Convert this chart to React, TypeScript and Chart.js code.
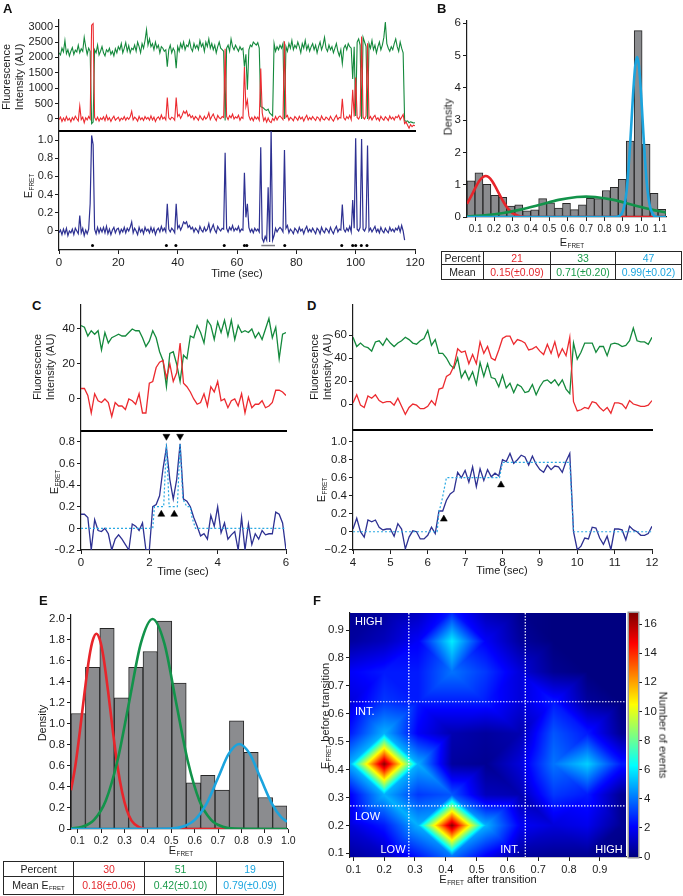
import React, { useEffect, useRef } from "react";
import { Chart, registerables } from "chart.js";

Chart.register(...registerables);

// ---------------- fonts & colours ----------------
const FONT = "'Liberation Sans', Arial, Helvetica, sans-serif";
Chart.defaults.font.family = FONT;
const INK = "#1c1c1c";
const DONOR = "#14893c";
const ACCEPTOR = "#ec2a2f";
const EF_BLUE = "#2e3192";
const FIT_RED = "#e8252b";
const FIT_GREEN = "#12934a";
const FIT_CYAN = "#1ba4de";
const STEP_CYAN = "#2aa9e2";
const BAR_FILL = "#8b8c8f";
const BAR_EDGE = "#262626";
const T_RED = "#e42a2f";
const T_GREEN = "#1a9a4a";
const T_CYAN = "#1ea6e0";

// ---------------- panel A data (0.5 s frames) ----------------
const A_FRAME_S = 0.5;
const A_DONOR = [
  2150, 2080, 2300, 2180, 2550, 2120, 2250, 2050, 2200, 2320,
  2100, 2240, 2180, 2400, 2150, 2280, 2200, 2650, 2350, 2100,
  2300, 2200, -150, -100, 2250, 2150, 2400, 2080, 2200, 2350,
  2150, 2050, 2250, 2180, 2300, 2100, 2200, 2050, 2280, 2150,
  2350, 2250, 2450, 2150, 2300, 2480, 2200, 2380, 2150, 2300,
  2250, 2400, 2200, 2500, 2350, 2150, 2450, 2300, 2550, 2900,
  2400, 2600, 2350, 2450, 2250, 2500, 2300, 2400, 2150, 2350,
  2300, 2200, 2250, 1700, 2250, 2400, 2150, 2300, 2200, 1650,
  2350, 2200, 2450, 2300, 2500, 2250, 2400, 2350, 2550, 2300,
  2200, 2450, 2300, 2400, 2250, 2550, 2350, 2450, 2200, 2500,
  2350, 2600, 2300, 2450, 2250, 2400, 2150, 2350, 2500, 2300,
  2250, 2200, -50, 2300, 2400, 2200, 2600, 2350, 2250, 2400,
  2300, 2200, 2350, 2250, 2300, 1700, 2100, 950, 2250, 2400,
  2350, 2500, 2450, 2400, 2480, 2300, 400, 380, 350, 300,
  280, 320, 200, 150, 100, 2450, 2200, 2350, 2250, 2400,
  2300, 2450, 0, 2350, 2200, 2450, 2300, 2550, 2250, 2400,
  2300, 2500, 2350, 2150, 2450, 2300, 2550, 2250, 2400, 2200,
  2350, 2450, 2250, 2400, 2150, 2350, 2500, 2250, 2400, 2650,
  2300, 2200, 2400, 2250, 2350, 2150, 2300, 2450, 2200, 2050,
  2250, 1800, 2300, 2400, 2250, 2450, 2350, 2300, 1300, 2350,
  100, 2500, 2600, 2400, 0, 2650, 2500, 2350, 0, 2450,
  2300, 2550, 2250, 2400, 2150, 2350, 2500, 2250, 2400, 2650,
  3150, 2450, 2300, 2200, 2350, 2250, 2450, 2600, 2350, 2200,
  2500, 2300, 2150, -50, -80, -60, -120, -90, -110, -130,
  -120,
];
const A_ACCEPTOR = [
  -20, 60, -80, 30, -60, 80, -40, 20, -90, 50,
  -30, 90, 10, -60, 420, -20, 60, -120, 40, -30,
  80, 0, 3050, 3100, 50, -40, 60, -70, 30, -20,
  70, -50, 120, -30, 40, -80, 20, 90, -40, 10,
  60, -60, 30, -20, 80, -40, 50, -10, 70, 250,
  -30, 60, 10, -70, 90, -20, 40, -50, 80, 0,
  50, -40, 100, -30, 60, -80, 20, 70, -20, 130,
  0, 60, -30, 700, 40, -20, 60, 30, -40, 700,
  80, 150, 20, 120, 250, 180, 260, 90, 150, 40,
  100, -20, 80, 30, -40, 110, 20, -30, 90, 0,
  60, 200, -20, 80, 160, 30, -50, 120, 40, 10,
  80, 50, 2280, 80, -20, 110, 40, 160, 0, 70,
  30, 120, -40, 60, 20, 1690, 400, 610, 100, -30,
  50, -60, 80, 0, 60, -40, 1640, 200, -60, 40,
  -100, 30, -80, -120, 20, -50, 80, -30, 60, 100,
  40, -20, 2525, 60, 120, -40, 50, 10, -60, 80,
  30, -40, 90, 0, 60, -70, 40, 120, -30, 50,
  -20, 80, 10, -50, 70, 30, -60, 100, 0, -30,
  60, 20, -40, 90, 0, -70, 40, 120, -20, 50,
  30, 655, 40, -30, 80, 10, 120, -20, 950, 80,
  1350, 50, 0, 100, 2680, 50, 0, 100, 2460, 0,
  80, -30, 60, 120, -20, 40, -60, 90, 10, -40,
  70, 20, -50, 100, 0, 60, -30, 80, 40, 120,
  -20, 60, 150, -150, -100, -200, -300, -180, -250, -200,
  -220,
];
const A_EFRET = [
  -0.02, 0.01, -0.04, 0.02, -0.03, 0.03, -0.05, 0.0, -0.02, 0.02,
  -0.04, 0.03, 0.0, -0.03, 0.17, -0.02, 0.03, -0.05, 0.01, -0.03,
  0.02, 0.3, 1.05, 0.95, 0.02, -0.03, 0.04, -0.02, 0.03, -0.01,
  0.04, -0.02, 0.05, -0.03, 0.02, -0.04, 0.01, 0.04, -0.02, 0.02,
  0.03, -0.03, 0.02, -0.01, 0.04, -0.02, 0.03, 0.0, 0.04, 0.1,
  -0.02, 0.03, 0.0, -0.04, 0.04, -0.01, 0.02, -0.03, 0.04, 0.0,
  0.02, -0.02, 0.04, -0.01, 0.03, -0.04, 0.01, 0.03, -0.01, 0.05,
  0.0, 0.03, -0.01, 0.3, 0.02, -0.01, 0.03, 0.01, -0.02, 0.3,
  0.03, 0.06, 0.01, 0.05, 0.1, 0.08, 0.1, 0.04, 0.06, 0.02,
  0.04, -0.01, 0.03, 0.01, -0.02, 0.05, 0.01, -0.01, 0.04, 0.0,
  0.02, 0.08, -0.01, 0.03, 0.07, 0.01, -0.02, 0.05, 0.02, 0.0,
  0.03, 0.02, 0.86, 0.03, -0.01, 0.04, 0.01, 0.06, 0.0, 0.03,
  0.01, 0.05, -0.01, 0.02, 0.01, 0.64, 0.15, 0.3, 0.04, -0.01,
  0.02, -0.02, 0.03, 0.0, 0.02, -0.01, 0.92, -0.08, -0.12, -0.06,
  -0.1, 0.48, -0.12, 1.12, -0.1, -0.05, 0.03, -0.01, 0.02, 0.04,
  0.02, -0.01, 0.89, 0.03, 0.06, -0.02, 0.02, 0.0, -0.03, 0.03,
  0.01, -0.02, 0.04, 0.0, 0.02, -0.03, 0.02, 0.05, -0.01, 0.02,
  -0.01, 0.03, 0.0, -0.03, 0.03, 0.01, -0.03, 0.04, 0.0, -0.02,
  0.03, 0.01, -0.02, 0.04, 0.0, -0.03, 0.02, 0.05, -0.01, 0.02,
  0.01, 0.29, 0.02, -0.01, 0.03, 0.0, 0.05, -0.01, 0.34, 0.03,
  1.02, 0.02, 0.0, 0.04, 1.01, 0.02, 0.0, 0.04, 0.94, 0.0,
  0.03, -0.01, 0.02, 0.05, -0.01, 0.02, -0.02, 0.04, 0.0, -0.02,
  0.03, 0.0, -0.02, 0.04, 0.0, 0.02, -0.01, 0.03, 0.01, 0.05,
  -0.01, 0.06, 0.0, -0.1,
];
const A_EVENT_TIMES = [11.3, 36.2, 39.4, 55.7, 62.5, 63.3, 76.1, 95.3, 99.0, 100.0, 101.9, 103.8];
const A_EVENT_LEVEL = -0.16;
const A_BAR_SPAN = [68.2, 72.8];
const A_INT_TICKS = [0, 500, 1000, 1500, 2000, 2500, 3000];
const A_INT_LABELS = ["0", "500", "1000", "1500", "2000", "2500", "3000"];
const A_E_TICKS = [0, 0.2, 0.4, 0.6, 0.8, 1.0];
const A_E_LABELS = ["0", "0.2", "0.4", "0.6", "0.8", "1.0"];
const A_TIME_TICKS = [0, 20, 40, 60, 80, 100, 120];
const A_TIME_LABELS = ["0", "20", "40", "60", "80", "100", "120"];

// ---------------- panel B data ----------------
const B_BIN_CENTERS = [0.0746, 0.1178, 0.1611, 0.2043, 0.2476, 0.2908, 0.3341, 0.3773, 0.4205, 0.4638, 0.507, 0.5503, 0.5935, 0.6368, 0.68, 0.7232, 0.7665, 0.8097, 0.853, 0.8962, 0.9395, 0.9827, 1.026, 1.0692, 1.1124];
const B_DENSITY = [1.12, 1.37, 1.01, 0.67, 0.61, 0.34, 0.38, 0.19, 0.22, 0.57, 0.44, 0.28, 0.42, 0.23, 0.38, 0.58, 0.57, 0.82, 0.92, 1.17, 2.35, 5.77, 2.25, 0.73, 0.24];
const B_RED_X = [0.053, 0.08, 0.1, 0.12, 0.14, 0.155, 0.17, 0.19, 0.21, 0.23, 0.25, 0.27, 0.29, 0.31, 0.33, 0.36, 0.4, 0.6, 0.8, 1.0, 1.12];
const B_RED_Y = [0.41, 0.69, 0.92, 1.12, 1.24, 1.27, 1.24, 1.11, 0.91, 0.69, 0.48, 0.3, 0.17, 0.09, 0.04, 0.01, 0, 0, 0, 0, 0];
const B_GREEN_X = [0.053, 0.15, 0.25, 0.35, 0.45, 0.55, 0.65, 0.7, 0.75, 0.85, 0.95, 1.05, 1.134];
const B_GREEN_Y = [0.022, 0.056, 0.125, 0.236, 0.38, 0.53, 0.62, 0.63, 0.62, 0.53, 0.38, 0.236, 0.14];
const B_CYAN_X = [0.053, 0.85, 0.88, 0.9, 0.92, 0.94, 0.955, 0.967, 0.977, 0.987, 1.0, 1.015, 1.03, 1.045, 1.06, 1.08, 1.134];
const B_CYAN_Y = [0, 0, 0.03, 0.18, 0.81, 2.32, 3.79, 4.68, 4.95, 4.68, 3.68, 2.21, 1.03, 0.38, 0.11, 0.01, 0];
const B_Y_TICKS = [0, 1, 2, 3, 4, 5, 6];
const B_Y_LABELS = ["0", "1", "2", "3", "4", "5", "6"];
const B_X_TICKS = [0.1, 0.2, 0.3, 0.4, 0.5, 0.6, 0.7, 0.8, 0.9, 1.0, 1.1];
const B_X_LABELS = ["0.1", "0.2", "0.3", "0.4", "0.5", "0.6", "0.7", "0.8", "0.9", "1.0", "1.1"];
const B_PERCENT = ["21", "33", "47"];
const B_MEAN = ["0.15(\u00b10.09)", "0.71(\u00b10.20)", "0.99(\u00b10.02)"];

// ---------------- panel C data (0.1 s frames, 0..6 s) ----------------
const C_START = 0;
const C_FRAME_S = 0.1;
const C_DONOR = [42, 41, 36, 39, 37, 39, 28, 38, 32, 35, 36, 37, 36, 36, 38, 40, 39, 39, 35, 30, 33, 39, 35, 27, 22, 7, 26, 27, 20, 10, 25, 23, 36, 35, 42, 38, 32, 45, 42, 34, 44, 38, 45, 36, 45, 34, 42, 38, 39, 38, 40, 35, 38, 34, 40, 46, 35, 41, 23, 37, 38];
const C_ACCEPTOR = [6, 6, 2, -8, 3, -1, -2, 0, -2, -10, -2, -4, -4, -6, 0, -1, -3, 3, -8, -8, 9, 10, 18, 21, 22, 12, 20, 10, 15, 32, 9, 7, 4, 0, -3, -2, 3, -4, 7, 4, 10, -1, 0, -5, -1, 0, -4, 3, -8, 1, -5, -3, -3, -1, -5, -4, -2, 5, 5, 4, 2];
const C_EFRET = [0.13, 0.13, 0.1, -0.2, 0.08, -0.02, -0.03, 0.0, -0.05, -0.2, -0.1, -0.06, -0.1, -0.15, -0.2, 0.04, 0.02, -0.02, 0.05, -0.2, -0.2, 0.2, 0.22, 0.3, 0.55, 0.75, 0.45, 0.27, 0.45, 0.78, 0.27, 0.25, 0.2, 0.1, 0.02, -0.07, -0.05, -0.1, 0.12, 0.02, 0.2, -0.04, 0.05, -0.1, -0.06, -0.03, -0.2, 0.1, -0.2, 0.04, -0.15, -0.05, -0.1, -0.02, -0.06, -0.05, -0.05, 0.15, 0.13, 0.05, -0.2];
const C_FIT_T = [0, 2.1, 2.15, 2.42, 2.5, 2.58, 2.82, 2.9, 2.98, 3.1, 3.2, 3.25, 3.35, 6];
const C_FIT_E = [0, 0, 0.2, 0.2, 0.78, 0.2, 0.2, 0.78, 0.27, 0.2, 0.2, 0.1, 0, 0];
const C_DOWN_MARKS = [{ x: 2.5, y: 0.85 }, { x: 2.9, y: 0.85 }];
const C_UP_MARKS = [{ x: 2.35, y: 0.13 }, { x: 2.73, y: 0.13 }];
const C_INT_TICKS = [0, 20, 40];
const C_INT_LABELS = ["0", "20", "40"];
const C_E_TICKS = [-0.2, 0, 0.2, 0.4, 0.6, 0.8];
const C_E_LABELS = ["\u22120.2", "0", "0.2", "0.4", "0.6", "0.8"];
const C_TIME_TICKS = [0, 2, 4, 6];
const C_TIME_LABELS = ["0", "2", "4", "6"];

// ---------------- panel D data (0.1 s frames, 4..12 s) ----------------
const D_START = 4;
const D_FRAME_S = 0.1;
const D_DONOR = [58, 50, 53, 50, 49, 46, 54, 55, 51, 57, 53, 50, 53, 55, 58, 56, 53, 52, 55, 57, 64, 51, 56, 44, 44, 40, 34, 31, 40, 23, 29, 21, 28, 17, 36, 24, 35, 23, 22, 15, 25, 14, 18, 10, 17, 15, 10, 11, 17, 8, 15, 20, 21, 18, 21, 16, 21, 13, 9, 53, 39, 45, 53, 53, 53, 45, 50, 50, 42, 52, 53, 52, 50, 51, 55, 66, 55, 54, 54, 52, 58];
const D_ACCEPTOR = [1, 8, -1, -3, 7, 5, 8, 3, 1, 2, 2, -1, 5, -2, -9, -3, 0, -1, -4, -4, -2, 3, -1, 13, 14, 24, 26, 33, 48, 45, 46, 35, 43, 35, 54, 44, 50, 40, 38, 47, 57, 59, 59, 52, 56, 55, 53, 47, 48, 50, 46, 43, 52, 44, 54, 41, 48, 42, 58, 2, -6, -5, -3, -4, 2, 1, -3, -6, -3, -8, 1, 1, 0, -4, 3, 0, -1, -2, -2, -1, 3];
const D_EFRET = [0.03, 0.15, 0.0, -0.06, 0.13, 0.11, 0.13, 0.05, 0.02, 0.03, 0.03, -0.05, 0.09, 0.03, -0.19, -0.06, 0.01, 0.0, -0.08, -0.08, -0.04, 0.05, -0.02, 0.23, 0.23, 0.35, 0.42, 0.45, 0.66, 0.6, 0.68, 0.55, 0.72, 0.5, 0.7, 0.57, 0.69, 0.61, 0.65, 0.62, 0.8, 0.78, 0.87, 0.76, 0.8, 0.85, 0.83, 0.74, 0.84, 0.75, 0.69, 0.66, 0.74, 0.69, 0.73, 0.72, 0.66, 0.78, 0.87, 0.0, -0.2, -0.16, -0.07, -0.08, 0.05, 0.04, -0.07, -0.14, -0.05, -0.2, 0.03, 0.03, 0.02, -0.09, 0.06, 0.02, 0.0, -0.04, -0.04, -0.02, 0.06];
const D_FIT_T = [4, 6.25, 6.3, 6.38, 6.5, 7.92, 8.0, 9.8, 9.9, 12];
const D_FIT_E = [0, 0, 0.22, 0.35, 0.6, 0.6, 0.77, 0.77, 0, 0];
const D_UP_MARKS = [{ x: 6.43, y: 0.14 }, { x: 7.96, y: 0.52 }];
const D_INT_TICKS = [0, 20, 40, 60];
const D_INT_LABELS = ["0", "20", "40", "60"];
const D_E_TICKS = [-0.2, 0, 0.2, 0.4, 0.6, 0.8, 1.0];
const D_E_LABELS = ["\u22120.2", "0", "0.2", "0.4", "0.6", "0.8", "1.0"];
const D_TIME_TICKS = [4, 5, 6, 7, 8, 9, 10, 11, 12];
const D_TIME_LABELS = ["4", "5", "6", "7", "8", "9", "10", "11", "12"];

// ---------------- panel E data ----------------
const E_BIN_CENTERS = [0.1024, 0.1639, 0.2254, 0.2869, 0.3484, 0.4099, 0.4714, 0.5329, 0.5944, 0.6559, 0.7174, 0.7789, 0.8404, 0.9019, 0.9634];
const E_DENSITY = [1.1, 1.54, 1.91, 1.25, 1.54, 1.69, 1.98, 1.39, 0.44, 0.51, 0.37, 1.03, 0.73, 0.3, 0.22];
const E_RED_X = [0.0716, 0.09, 0.11, 0.13, 0.15, 0.165, 0.18, 0.195, 0.21, 0.23, 0.25, 0.27, 0.29, 0.31, 0.33, 0.36, 0.4, 0.75];
const E_RED_Y = [0.37, 0.6, 0.94, 1.31, 1.64, 1.8, 1.86, 1.8, 1.64, 1.31, 0.94, 0.6, 0.35, 0.18, 0.08, 0.02, 0, 0];
const E_GREEN_X = [0.0716, 0.12, 0.17, 0.22, 0.27, 0.32, 0.37, 0.42, 0.47, 0.52, 0.57, 0.62, 0.67, 0.72, 0.77, 0.994];
const E_GREEN_Y = [0.004, 0.022, 0.088, 0.27, 0.65, 1.21, 1.77, 2.0, 1.77, 1.21, 0.65, 0.27, 0.088, 0.022, 0.004, 0];
const E_CYAN_X = [0.0716, 0.5, 0.55, 0.6, 0.65, 0.7, 0.745, 0.79, 0.835, 0.88, 0.93, 0.97, 0.994];
const E_CYAN_Y = [0, 0.005, 0.023, 0.087, 0.24, 0.49, 0.715, 0.81, 0.715, 0.49, 0.24, 0.11, 0.07];
const E_Y_TICKS = [0, 0.2, 0.4, 0.6, 0.8, 1.0, 1.2, 1.4, 1.6, 1.8, 2.0];
const E_Y_LABELS = ["0", "0.2", "0.4", "0.6", "0.8", "1.0", "1.2", "1.4", "1.6", "1.8", "2.0"];
const E_X_TICKS = [0.1, 0.2, 0.3, 0.4, 0.5, 0.6, 0.7, 0.8, 0.9, 1.0];
const E_X_LABELS = ["0.1", "0.2", "0.3", "0.4", "0.5", "0.6", "0.7", "0.8", "0.9", "1.0"];
const E_PERCENT = ["30", "51", "19"];
const E_MEAN = ["0.18(\u00b10.06)", "0.42(\u00b10.10)", "0.79(\u00b10.09)"];

// ---------------- panel F data (transition density map) ----------------
const F_GRID = [0.09, 0.2, 0.31, 0.42, 0.53, 0.64, 0.75, 0.86, 0.97];
// rows: E_FRET before transition (ascending), columns: E_FRET after transition
const F_COUNTS = [
  [0.5, 1.0, 2.5, 4.0, 2.0, 0.5, 0.3, 0.3, 0.0], // 0.09
  [1.5, 2.5, 5.0, 16.6, 5.0, 2.0, 1.5, 1.8, 0.3], // 0.20
  [2.0, 5.0, 3.0, 3.5, 1.0, 0.8, 3.0, 2.5, 0.3], // 0.31
  [5.0, 16.6, 5.0, 0.5, 0.3, 1.5, 4.0, 5.5, 2.5], // 0.42
  [2.5, 5.0, 2.0, 0.8, 0.5, 0.8, 3.5, 2.5, 0.3], // 0.53
  [1.5, 3.0, 2.5, 2.5, 2.5, 1.5, 2.5, 0.5, 0.0], // 0.64
  [2.0, 2.5, 2.5, 4.0, 3.0, 1.5, 0.3, 0.0, 0.0], // 0.75
  [0.5, 1.0, 2.0, 6.0, 2.0, 0.5, 0.0, 0.0, 0.0], // 0.86
  [0.3, 0.5, 1.0, 2.5, 0.8, 0.2, 0.0, 0.0, 0.0], // 0.97
];
const F_VMAX = 16.76;
const F_BOUNDS_X = [0.28, 0.658];
const F_BOUNDS_Y = [0.27, 0.643];
const F_TICKS = [0.1, 0.2, 0.3, 0.4, 0.5, 0.6, 0.7, 0.8, 0.9];
const F_LABELS = ["0.1", "0.2", "0.3", "0.4", "0.5", "0.6", "0.7", "0.8", "0.9"];
const CB_TICKS = [0, 2, 4, 6, 8, 10, 12, 14, 16];
const CB_LABELS = ["0", "2", "4", "6", "8", "10", "12", "14", "16"];

// ---------------- helpers ----------------
type Rect = { l: number; t: number; r: number; b: number };
type Box = { left: number; top: number; width: number; height: number };

const boxOf = (p: Rect, m: Rect): Box => ({
  left: p.l - m.l,
  top: p.t - m.t,
  width: p.r - p.l + m.l + m.r,
  height: p.b - p.t + m.t + m.b,
});

const frames = (start: number, step: number, n: number) =>
  Array.from({ length: n }, (_, i) => Math.round((start + i * step) * 1000) / 1000);
const xy = (xs: number[], ys: number[]) => ys.map((y, i) => ({ x: xs[i], y }));

function yLin(min: number, max: number, ticks: number[], labels: string[], w: number, size = 11, position = "left") {
  return {
    type: "linear",
    position,
    min,
    max,
    afterBuildTicks: (s: any) => {
      s.ticks = ticks.map((v) => ({ value: v }));
    },
    afterFit: (s: any) => {
      s.width = w;
    },
    ticks: { autoSkip: false, padding: 2, color: INK, font: { family: FONT, size }, callback: (_v: any, i: number) => labels[i] },
    grid: { display: true, drawOnChartArea: false, drawTicks: true, tickLength: 4, color: INK, lineWidth: 1 },
    border: { display: true, color: INK, width: 1.2 },
  };
}

function xLin(min: number, max: number, ticks: number[], labels: string[], h: number, size = 11) {
  return {
    type: "linear",
    position: "bottom",
    min,
    max,
    offset: false,
    afterBuildTicks: (s: any) => {
      s.ticks = ticks.map((v) => ({ value: v }));
    },
    afterFit: (s: any) => {
      s.height = h;
    },
    ticks: { autoSkip: false, maxRotation: 0, minRotation: 0, padding: 2, color: INK, font: { family: FONT, size }, callback: (_v: any, i: number) => labels[i] },
    grid: { display: true, offset: false, drawOnChartArea: false, drawTicks: true, tickLength: 4, color: INK, lineWidth: 1 },
    border: { display: true, color: INK, width: 1.2 },
  };
}

function xSep(min: number, max: number, h: number) {
  return {
    type: "linear",
    position: "bottom",
    min,
    max,
    afterFit: (s: any) => {
      s.height = h;
    },
    ticks: { display: false },
    grid: { display: true, drawOnChartArea: false, drawTicks: false, color: "#000" },
    border: { display: true, color: "#000", width: 2 },
  };
}

function opts(m: Rect, scales: any, pad?: any) {
  return {
    responsive: false,
    maintainAspectRatio: false,
    animation: false,
    events: [],
    layout: { padding: pad ?? { left: 0, top: m.t, right: m.r, bottom: 0 } },
    plugins: { legend: { display: false }, tooltip: { enabled: false } },
    scales,
  };
}

function line(data: any[], color: string, width: number, order: number, extra: any = {}) {
  return { type: "line", data, borderColor: color, backgroundColor: color, borderWidth: width, pointRadius: 0, tension: 0, fill: false, order, ...extra };
}
function curve(data: any[], color: string, order: number) {
  return line(data, color, 2.6, order, { cubicInterpolationMode: "monotone" });
}
function marks(data: any[], rotation: number, order: number) {
  return { type: "scatter", data, pointStyle: "triangle", pointRadius: 4, rotation, backgroundColor: "#000", borderColor: "#000", borderWidth: 0.5, order };
}
function bars(centers: number[], dens: number[]) {
  return {
    type: "bar",
    data: xy(centers, dens),
    backgroundColor: BAR_FILL,
    borderColor: BAR_EDGE,
    borderWidth: 1,
    borderSkipped: false,
    barPercentage: 1,
    categoryPercentage: 1,
    grouped: false,
    order: 10,
  };
}

// jet colour map
function jet(t: number): number[] {
  const c = (v: number) => Math.max(0, Math.min(1, v));
  const u = c(t);
  return [c(1.5 - Math.abs(4 * u - 3)) * 255, c(1.5 - Math.abs(4 * u - 2)) * 255, c(1.5 - Math.abs(4 * u - 1)) * 255];
}

// piecewise-linear (triangulated) reading of the count grid
function countAt(x: number, y: number): number {
  const n = F_GRID.length;
  const step = F_GRID[1] - F_GRID[0];
  let gx = (x - F_GRID[0]) / step;
  let gy = (y - F_GRID[0]) / step;
  gx = Math.max(0, Math.min(n - 1 - 1e-9, gx));
  gy = Math.max(0, Math.min(n - 1 - 1e-9, gy));
  const i = Math.floor(gx);
  const j = Math.floor(gy);
  const fx = gx - i;
  const fy = gy - j;
  const v00 = F_COUNTS[j][i];
  const v10 = F_COUNTS[j][i + 1];
  const v01 = F_COUNTS[j + 1][i];
  const v11 = F_COUNTS[j + 1][i + 1];
  if ((i + j) % 2 === 0) {
    if (fx + fy <= 1) return v00 + fx * (v10 - v00) + fy * (v01 - v00);
    return v11 + (1 - fx) * (v01 - v11) + (1 - fy) * (v10 - v11);
  }
  if (fx >= fy) return v00 + fx * (v10 - v00) + fy * (v11 - v10);
  return v00 + fy * (v01 - v00) + fx * (v11 - v01);
}

const heatPlugin = {
  id: "heatmap",
  beforeDatasetsDraw(chart: any) {
    const { ctx, chartArea: a, scales } = chart;
    const w = Math.round(a.right - a.left);
    const h = Math.round(a.bottom - a.top);
    const off = document.createElement("canvas");
    off.width = w;
    off.height = h;
    const octx = off.getContext("2d") as CanvasRenderingContext2D;
    const img = octx.createImageData(w, h);
    for (let py = 0; py < h; py++) {
      const vy = scales.y.getValueForPixel(a.top + py + 0.5);
      for (let px = 0; px < w; px++) {
        const vx = scales.x.getValueForPixel(a.left + px + 0.5);
        const col = jet(countAt(vx, vy) / F_VMAX);
        const k = (py * w + px) * 4;
        img.data[k] = col[0];
        img.data[k + 1] = col[1];
        img.data[k + 2] = col[2];
        img.data[k + 3] = 255;
      }
    }
    octx.putImageData(img, 0, 0);
    ctx.drawImage(off, a.left, a.top);
  },
  afterDatasetsDraw(chart: any) {
    const { ctx, chartArea: a, scales } = chart;
    ctx.save();
    ctx.strokeStyle = "#ffffff";
    ctx.lineWidth = 1.2;
    ctx.setLineDash([1.5, 1.5]);
    for (const v of F_BOUNDS_X) {
      const p = scales.x.getPixelForValue(v);
      ctx.beginPath();
      ctx.moveTo(p, a.top);
      ctx.lineTo(p, a.bottom);
      ctx.stroke();
    }
    for (const v of F_BOUNDS_Y) {
      const p = scales.y.getPixelForValue(v);
      ctx.beginPath();
      ctx.moveTo(a.left, p);
      ctx.lineTo(a.right, p);
      ctx.stroke();
    }
    ctx.restore();
  },
};

const colorbarPlugin = {
  id: "colorbar",
  beforeDatasetsDraw(chart: any) {
    const { ctx, chartArea: a, scales } = chart;
    for (let py = Math.floor(a.top); py < Math.ceil(a.bottom); py++) {
      const v = scales.y.getValueForPixel(py + 0.5);
      const c = jet(v / F_VMAX);
      ctx.fillStyle = `rgb(${c[0] | 0},${c[1] | 0},${c[2] | 0})`;
      ctx.fillRect(a.left, py, a.right - a.left, 1);
    }
    ctx.save();
    ctx.strokeStyle = "#9a9a9a";
    ctx.lineWidth = 1.5;
    ctx.strokeRect(a.left - 0.75, a.top - 0.75, a.right - a.left + 1.5, a.bottom - a.top + 1.5);
    ctx.restore();
  },
};

// ---------------- chart specs ----------------
const A_TIME = frames(0, A_FRAME_S, A_DONOR.length);
const C_TIME = frames(C_START, C_FRAME_S, C_DONOR.length);
const D_TIME = frames(D_START, D_FRAME_S, D_DONOR.length);

type Spec = { key: string; box: Box; make: () => any };

const P_A_TOP: Rect = { l: 59, t: 20, r: 415, b: 131 };
const M_A_TOP: Rect = { l: 59, t: 15, r: 15, b: 12 };
const P_A_BOT: Rect = { l: 59, t: 131, r: 415, b: 250 };
const M_A_BOT: Rect = { l: 59, t: 15, r: 15, b: 31 };
const P_B: Rect = { l: 467, t: 21, r: 666, b: 217 };
const M_B: Rect = { l: 27, t: 15, r: 17, b: 28 };
const P_C_TOP: Rect = { l: 81, t: 305, r: 286, b: 431 };
const M_C_TOP: Rect = { l: 26, t: 15, r: 14, b: 12 };
const P_C_BOT: Rect = { l: 81, t: 431, r: 286, b: 550 };
const M_C_BOT: Rect = { l: 26, t: 15, r: 14, b: 35 };
const P_D_TOP: Rect = { l: 353, t: 305, r: 652, b: 430 };
const M_D_TOP: Rect = { l: 28, t: 15, r: 18, b: 12 };
const P_D_BOT: Rect = { l: 353, t: 430, r: 652, b: 550 };
const M_D_BOT: Rect = { l: 28, t: 15, r: 18, b: 35 };
const P_E: Rect = { l: 71, t: 615, r: 287, b: 829 };
const M_E: Rect = { l: 26, t: 15, r: 15, b: 28 };
const P_F: Rect = { l: 350, t: 613, r: 626, b: 857 };
const M_F: Rect = { l: 38, t: 15, r: 10, b: 23 };
const P_CB: Rect = { l: 629, t: 613, r: 638, b: 857 };
const M_CB: Rect = { l: 9, t: 15, r: 45, b: 13 };

const SPECS: Spec[] = [
  {
    key: "a-top",
    box: boxOf(P_A_TOP, M_A_TOP),
    make: () => ({
      type: "line",
      data: {
        datasets: [line(xy(A_TIME, A_DONOR), DONOR, 1.1, 2), line(xy(A_TIME, A_ACCEPTOR), ACCEPTOR, 1.1, 1)],
      },
      options: opts(M_A_TOP, { x: xSep(0, 120, M_A_TOP.b), y: yLin(-390, 3216, A_INT_TICKS, A_INT_LABELS, M_A_TOP.l) }),
    }),
  },
  {
    key: "a-bot",
    box: boxOf(P_A_BOT, M_A_BOT),
    make: () => ({
      type: "line",
      data: {
        datasets: [
          line(xy(A_TIME, A_EFRET), EF_BLUE, 1.2, 3),
          line([{ x: A_BAR_SPAN[0], y: A_EVENT_LEVEL }, { x: A_BAR_SPAN[1], y: A_EVENT_LEVEL }], "#7d7d85", 1.5, 2),
          { type: "scatter", data: A_EVENT_TIMES.map((t) => ({ x: t, y: A_EVENT_LEVEL })), pointRadius: 1.5, backgroundColor: "#000", borderColor: "#000", borderWidth: 0, order: 1 },
        ],
      },
      options: opts(M_A_BOT, {
        x: xLin(0, 120, A_TIME_TICKS, A_TIME_LABELS, M_A_BOT.b, 11.5),
        y: yLin(-0.209, 1.099, A_E_TICKS, A_E_LABELS, M_A_BOT.l),
      }),
    }),
  },
  {
    key: "b",
    box: boxOf(P_B, M_B),
    make: () => ({
      type: "bar",
      data: {
        datasets: [
          bars(B_BIN_CENTERS, B_DENSITY),
          curve(xy(B_RED_X, B_RED_Y), FIT_RED, 3),
          curve(xy(B_GREEN_X, B_GREEN_Y), FIT_GREEN, 2),
          curve(xy(B_CYAN_X, B_CYAN_Y), FIT_CYAN, 1),
        ],
      },
      options: opts(M_B, {
        x: xLin(0.053, 1.134, B_X_TICKS, B_X_LABELS, M_B.b, 10),
        y: yLin(0, 6.07, B_Y_TICKS, B_Y_LABELS, M_B.l, 11.5),
      }),
    }),
  },
  {
    key: "c-top",
    box: boxOf(P_C_TOP, M_C_TOP),
    make: () => ({
      type: "line",
      data: { datasets: [line(xy(C_TIME, C_DONOR), DONOR, 1.3, 2), line(xy(C_TIME, C_ACCEPTOR), ACCEPTOR, 1.3, 1)] },
      options: opts(M_C_TOP, { x: xSep(0, 6, M_C_TOP.b), y: yLin(-18.3, 53.7, C_INT_TICKS, C_INT_LABELS, M_C_TOP.l, 11.5) }),
    }),
  },
  {
    key: "c-bot",
    box: boxOf(P_C_BOT, M_C_BOT),
    make: () => ({
      type: "line",
      data: {
        datasets: [
          line(xy(C_TIME, C_EFRET), EF_BLUE, 1.3, 3),
          line(xy(C_FIT_T, C_FIT_E), STEP_CYAN, 1.2, 2, { borderDash: [2, 2] }),
          marks(C_DOWN_MARKS, 180, 1),
          marks(C_UP_MARKS, 0, 1),
        ],
      },
      options: opts(M_C_BOT, {
        x: xLin(0, 6, C_TIME_TICKS, C_TIME_LABELS, M_C_BOT.b, 11.5),
        y: yLin(-0.2, 0.899, C_E_TICKS, C_E_LABELS, M_C_BOT.l, 11.5),
      }),
    }),
  },
  {
    key: "d-top",
    box: boxOf(P_D_TOP, M_D_TOP),
    make: () => ({
      type: "line",
      data: { datasets: [line(xy(D_TIME, D_DONOR), DONOR, 1.3, 2), line(xy(D_TIME, D_ACCEPTOR), ACCEPTOR, 1.3, 1)] },
      options: opts(M_D_TOP, { x: xSep(4, 12, M_D_TOP.b), y: yLin(-22.6, 86.1, D_INT_TICKS, D_INT_LABELS, M_D_TOP.l, 11.5) }),
    }),
  },
  {
    key: "d-bot",
    box: boxOf(P_D_BOT, M_D_BOT),
    make: () => ({
      type: "line",
      data: {
        datasets: [
          line(xy(D_TIME, D_EFRET), EF_BLUE, 1.3, 3),
          line(xy(D_FIT_T, D_FIT_E), STEP_CYAN, 1.2, 2, { borderDash: [2, 2] }),
          marks(D_UP_MARKS, 0, 1),
        ],
      },
      options: opts(M_D_BOT, {
        x: xLin(4, 12, D_TIME_TICKS, D_TIME_LABELS, M_D_BOT.b, 11.5),
        y: yLin(-0.203, 1.13, D_E_TICKS, D_E_LABELS, M_D_BOT.l, 11.5),
      }),
    }),
  },
  {
    key: "e",
    box: boxOf(P_E, M_E),
    make: () => ({
      type: "bar",
      data: {
        datasets: [
          bars(E_BIN_CENTERS, E_DENSITY),
          curve(xy(E_RED_X, E_RED_Y), FIT_RED, 3),
          curve(xy(E_GREEN_X, E_GREEN_Y), FIT_GREEN, 2),
          curve(xy(E_CYAN_X, E_CYAN_Y), FIT_CYAN, 1),
        ],
      },
      options: opts(M_E, {
        x: xLin(0.0716, 0.994, E_X_TICKS, E_X_LABELS, M_E.b, 10.5),
        y: yLin(0, 2.038, E_Y_TICKS, E_Y_LABELS, M_E.l, 11.5),
      }),
    }),
  },
  {
    key: "f",
    box: boxOf(P_F, M_F),
    make: () => ({
      type: "scatter",
      data: { datasets: [] },
      options: opts(M_F, {
        x: xLin(0.089, 0.985, F_TICKS, F_LABELS, M_F.b, 11),
        y: yLin(0.0868, 0.961, F_TICKS, F_LABELS, M_F.l, 11.5),
      }),
      plugins: [heatPlugin],
    }),
  },
  {
    key: "cb",
    box: boxOf(P_CB, M_CB),
    make: () => ({
      type: "scatter",
      data: { datasets: [] },
      options: opts(
        M_CB,
        {
          x: { type: "linear", display: false, min: 0, max: 1 },
          y: yLin(0, F_VMAX, CB_TICKS, CB_LABELS, M_CB.r, 11.5, "right"),
        },
        { left: M_CB.l, top: M_CB.t, right: 0, bottom: M_CB.b }
      ),
      plugins: [colorbarPlugin],
    }),
  },
];

// ---------------- components ----------------
function ChartCanvas({ spec }: { spec: Spec }) {
  const ref = useRef<HTMLCanvasElement | null>(null);
  useEffect(() => {
    const chart = new Chart(ref.current as HTMLCanvasElement, spec.make());
    return () => chart.destroy();
  }, []);
  const b = spec.box;
  return (
    <canvas
      ref={ref}
      width={b.width}
      height={b.height}
      style={{ position: "absolute", left: b.left, top: b.top, width: b.width, height: b.height }}
    />
  );
}

const Sub = ({ children }: any) => (
  <span style={{ fontSize: "0.58em", position: "relative", top: "0.35em", marginLeft: 0.5 }}>{children}</span>
);
const EF = () => (
  <>
    E<Sub>FRET</Sub>
  </>
);

function Label({ x, y, rot = 0, size = 11, color = INK, anchor = "c", lh = 1.15, children }: any) {
  const tx = anchor === "l" ? "0" : "-50%";
  return (
    <div
      style={{
        position: "absolute",
        left: x,
        top: y,
        transform: `translate(${tx}, -50%) rotate(${rot}deg)`,
        fontFamily: FONT,
        fontSize: size,
        color,
        whiteSpace: "pre",
        textAlign: "center",
        lineHeight: typeof lh === "number" && lh > 3 ? `${lh}px` : lh,
      }}
    >
      {children}
    </div>
  );
}

function PanelLetter({ x, y, c }: any) {
  return (
    <div style={{ position: "absolute", left: x, top: y, fontFamily: FONT, fontWeight: 700, fontSize: 13, lineHeight: 1, color: "#111" }}>{c}</div>
  );
}

function Table({ left, top, cols, rows, cells, size = 10.5 }: any) {
  const out: any[] = [];
  let y = 0;
  rows.forEach((h: number, r: number) => {
    let x = 0;
    cols.forEach((w: number, k: number) => {
      const cell = cells[r][k];
      out.push(
        <div
          key={`${r}-${k}`}
          style={{
            position: "absolute",
            left: left + x,
            top: top + y,
            width: w + 1,
            height: h + 1,
            boxSizing: "border-box",
            border: "1px solid #262626",
            display: "flex",
            alignItems: "center",
            justifyContent: "center",
            fontFamily: FONT,
            fontSize: size,
            color: cell.c ?? INK,
            whiteSpace: "nowrap",
            lineHeight: 1,
          }}
        >
          {cell.t}
        </div>
      );
      x += w;
    });
    y += h;
  });
  return <>{out}</>;
}

export default function App() {
  const fitColors = [T_RED, T_GREEN, T_CYAN];
  return (
    <div style={{ position: "absolute", left: 0, top: 0, width: 683, height: 896, background: "#fff", overflow: "hidden" }}>
      {SPECS.map((s) => (
        <ChartCanvas key={s.key} spec={s} />
      ))}

      {/* panel letters */}
      <PanelLetter x={3} y={2} c="A" />
      <PanelLetter x={437} y={2} c="B" />
      <PanelLetter x={32} y={299} c="C" />
      <PanelLetter x={307} y={299} c="D" />
      <PanelLetter x={39} y={594} c="E" />
      <PanelLetter x={313} y={594} c="F" />

      {/* panel A titles */}
      <Label x={13} y={77} rot={-90} lh={13}>{"Fluorescence\nIntensity (AU)"}</Label>
      <Label x={28} y={186} rot={-90}><EF /></Label>
      <Label x={237} y={273}>Time (sec)</Label>

      {/* panel B titles + table */}
      <Label x={448} y={117} rot={-90}>Density</Label>
      <Label x={572} y={242}><EF /></Label>
      <Table
        left={441}
        top={251}
        cols={[42, 67, 65, 66]}
        rows={[13, 15]}
        cells={[
          [{ t: "Percent" }, ...B_PERCENT.map((t, i) => ({ t, c: fitColors[i] }))],
          [{ t: "Mean" }, ...B_MEAN.map((t, i) => ({ t, c: fitColors[i] }))],
        ]}
      />

      {/* panel C titles */}
      <Label x={43} y={367} rot={-90} lh={12.5}>{"Fluorescence\nIntensity (AU)"}</Label>
      <Label x={54} y={482} rot={-90}><EF /></Label>
      <Label x={183} y={571}>Time (sec)</Label>

      {/* panel D titles */}
      <Label x={320} y={367} rot={-90} lh={12.5}>{"Fluorescence\nIntensity (AU)"}</Label>
      <Label x={321} y={490} rot={-90}><EF /></Label>
      <Label x={502} y={570}>Time (sec)</Label>

      {/* panel E titles + table */}
      <Label x={42} y={723} rot={-90}>Density</Label>
      <Label x={181} y={850}><EF /></Label>
      <Table
        left={3}
        top={861}
        cols={[70, 71, 72, 67]}
        rows={[15, 18]}
        cells={[
          [{ t: "Percent" }, ...E_PERCENT.map((t, i) => ({ t, c: fitColors[i] }))],
          [{ t: <>Mean <EF /></> }, ...E_MEAN.map((t, i) => ({ t, c: fitColors[i] }))],
        ]}
      />

      {/* panel F titles + state labels */}
      <Label x={325} y={716} rot={-90}><EF /> before transition</Label>
      <Label x={488} y={879}><EF /> after transition</Label>
      <Label x={663} y={735} rot={90}>Number of events</Label>
      <Label x={355} y={621} anchor="l" color="#fff">HIGH</Label>
      <Label x={355} y={711} anchor="l" color="#fff">INT.</Label>
      <Label x={355} y={816} anchor="l" color="#fff">LOW</Label>
      <Label x={393} y={849} color="#fff">LOW</Label>
      <Label x={510} y={849} color="#fff">INT.</Label>
      <Label x={609} y={849} color="#fff">HIGH</Label>
    </div>
  );
}
